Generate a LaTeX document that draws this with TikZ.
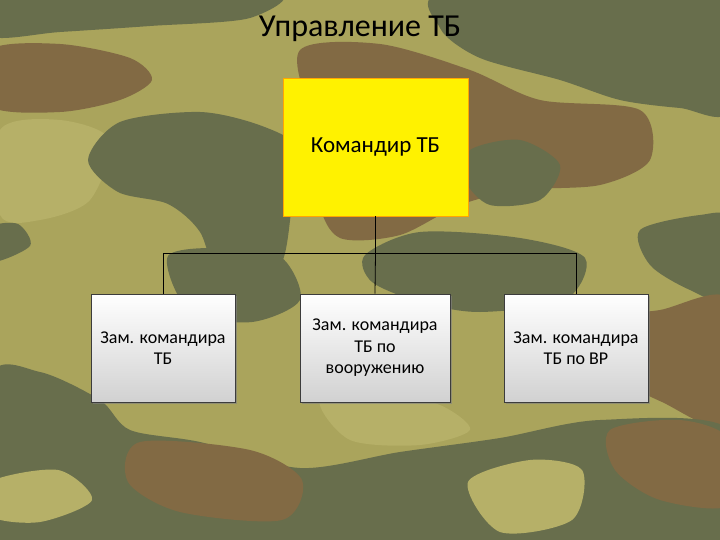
\documentclass[tikz,border=0pt]{standalone}
\usepackage{fontspec}
\setmainfont{Carlito}
\usetikzlibrary{shadows}
\definecolor{camobase}{RGB}{170,164,92}
\definecolor{camolight}{RGB}{182,176,104}
\definecolor{camodark}{RGB}{104,110,76}
\definecolor{camobrown}{RGB}{130,106,68}
\definecolor{boxline}{RGB}{60,60,60}
\tikzset{
  blobdark/.style={fill=camodark},
  blobbrown/.style={fill=camobrown},
  bloblight/.style={fill=camolight},
  chief/.style={draw=orange!70!yellow, fill=yellow, minimum width=185pt, minimum height=138pt, inner sep=0pt, font=\fontsize{23}{27}\selectfont},
  deputy/.style={draw=boxline, line width=0.8pt, top color=white, bottom color=black!18, minimum height=108pt, inner sep=2pt, align=center, font=\fontsize{18}{21.5}\selectfont, drop shadow={shadow xshift=1.5pt, shadow yshift=-1.5pt, opacity=0.6}},
  link/.style={draw=black, line width=0.8pt}
}
\begin{document}
\begin{tikzpicture}[x=1pt,y=-1pt]
\useasboundingbox (0,0) rectangle (720,540);
\fill[camobase] (0,0) rectangle (720,540);
% camouflage background
\fill[bloblight] plot[smooth cycle] coordinates {(0,130) (60,120) (110,140) (90,200) (40,220) (0,215)};
\fill[blobdark] plot[smooth cycle] coordinates {(-10,-10) (270,-10) (250,18) (150,26) (60,32) (-10,36)};
\fill[blobbrown] plot[smooth cycle] coordinates {(-10,50) (60,44) (130,58) (152,80) (120,100) (60,112) (-10,106)};
\fill[blobdark] plot[smooth cycle] coordinates {(88,160) (120,122) (200,112) (262,126) (300,150) (292,205) (282,262) (250,290) (218,280) (200,232) (168,204) (118,192)};
\fill[blobdark] plot[smooth cycle] coordinates {(-10,228) (18,224) (30,246) (-10,262)};
\fill[blobbrown] plot[smooth cycle] coordinates {(300,50) (380,44) (470,70) (540,100) (640,110) (650,160) (600,185) (520,190) (460,205) (400,235) (340,238) (318,200) (310,120)};
\fill[blobdark] plot[smooth cycle] coordinates {(450,-10) (730,-10) (730,110) (680,108) (620,100) (560,80) (480,58) (440,28)};
\fill[blobdark] plot[smooth cycle] coordinates {(470,150) (520,140) (560,165) (540,200) (490,205) (465,180)};
\fill[blobdark] plot[smooth cycle] coordinates {(365,255) (420,232) (520,238) (585,258) (565,300) (480,312) (420,302) (372,282)};
\fill[blobdark] plot[smooth cycle] coordinates {(168,256) (230,248) (282,258) (300,300) (252,322) (190,312)};
\fill[blobdark] plot[smooth cycle] coordinates {(640,230) (700,215) (730,220) (730,300) (690,290) (650,265)};
\fill[blobbrown] plot[smooth cycle] coordinates {(598,322) (660,310) (730,300) (730,425) (662,402) (612,372)};
\fill[blobdark] plot[smooth cycle] coordinates {(-10,378) (40,372) (100,400) (130,430) (200,442) (300,468) (400,452) (500,438) (600,420) (730,430) (730,550) (-10,550)};
\fill[blobbrown] plot[smooth cycle] coordinates {(140,442) (250,450) (302,480) (282,520) (180,512) (128,482)};
\fill[blobbrown] plot[smooth cycle] coordinates {(610,430) (680,420) (730,440) (730,505) (660,500) (615,470)};
\fill[bloblight] plot[smooth cycle] coordinates {(468,482) (530,460) (582,470) (572,520) (500,532)};
\fill[bloblight] plot[smooth cycle] coordinates {(-10,482) (58,470) (92,500) (40,522) (-10,516)};
\fill[bloblight] plot[smooth cycle] coordinates {(320,400) (380,392) (440,405) (470,430) (420,445) (350,440)};
% diagram
\node (title) at (360,29) {\fontsize{32}{36}\selectfont Управление ТБ};
\node[chief] (cmd) at (375.5,147) {Командир ТБ};
\node[deputy, minimum width=144pt] (d1) at (163,348) {Зам. командира\\ТБ};
\node[deputy, minimum width=150pt] (d2) at (375,348) {Зам. командира\\ТБ по\\вооружению};
\node[deputy, minimum width=144pt] (d3) at (576,348) {Зам. командира\\ТБ по ВР};
\coordinate (hub) at (375.5,253);
\draw[link] (cmd.south) -- (hub);
\draw[link] (hub) -| (d1.north);
\draw[link] (hub) -| (d3.north);
\draw[link] (hub) -- (d2.north);
\end{tikzpicture}
\end{document}
